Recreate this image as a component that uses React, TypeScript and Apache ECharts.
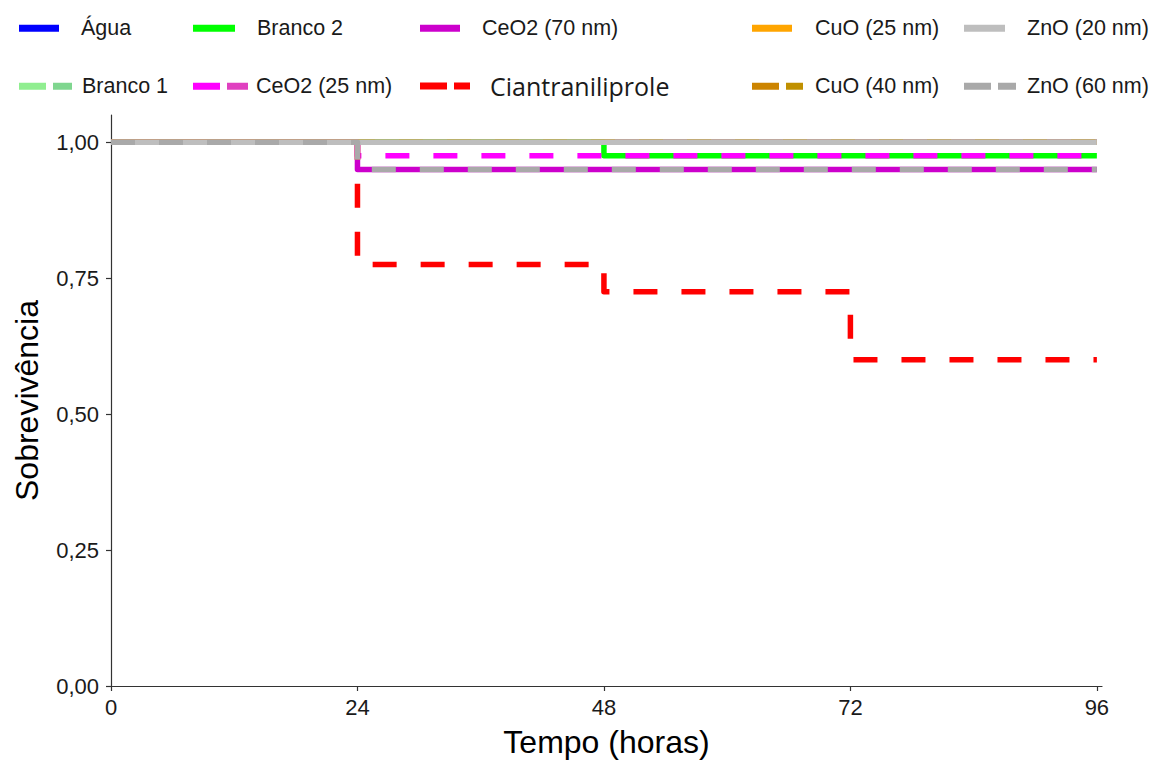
import React, { useEffect, useRef } from "react";
import * as echarts from "echarts";

const times = [0, 24, 48, 72, 96];
const xTicks = [0, 24, 48, 72, 96];
const yTicks = [0, 0.25, 0.5, 0.75, 1];

const agua = [1, 1, 1, 1, 1];
const branco1 = [1, 1, 1, 1, 1];
const branco2 = [1, 1, 0.975, 0.975, 0.975];
const ceo2_25 = [1, 0.975, 0.975, 0.975, 0.975];
const ceo2_70 = [1, 0.95, 0.95, 0.95, 0.95];
const ciantraniliprole = [1, 0.775, 0.725, 0.6, 0.6];
const cuo25 = [1, 1, 1, 1, 1];
const cuo40 = [1, 1, 1, 1, 1];
const zno20 = [1, 1, 1, 1, 1];
const zno60 = [1, 0.95, 0.95, 0.95, 0.95];

type S = {
  name: string;
  values: number[];
  color: string;
  color2?: string;
  dashed: boolean;
  lx: number;
  row: number;
  iw: number;
  pad: number;
  font?: string;
  fsize?: number;
};

const seriesDefs: S[] = [
  { name: "Água", values: agua, color: "#0000FF", dashed: false, lx: 19, row: 0, iw: 40, pad: 17 },
  { name: "Branco 1", values: branco1, color: "#90EE90", color2: "#7FD68F", dashed: true, lx: 19, row: 1, iw: 53, pad: 5 },
  { name: "Branco 2", values: branco2, color: "#00FF00", dashed: false, lx: 193, row: 0, iw: 42, pad: 17 },
  { name: "CeO2 (25 nm)", values: ceo2_25, color: "#FF00FF", color2: "#E040C0", dashed: true, lx: 193, row: 1, iw: 55, pad: 3 },
  { name: "CeO2 (70 nm)", values: ceo2_70, color: "#CC00CC", dashed: false, lx: 420, row: 0, iw: 40, pad: 17 },
  { name: "Ciantraniliprole", values: ciantraniliprole, color: "#FF0000", dashed: true, lx: 420, row: 1, iw: 50, pad: 15, font: "Open Sans", fsize: 25 },
  { name: "CuO (25 nm)", values: cuo25, color: "#FFA500", dashed: false, lx: 752, row: 0, iw: 40, pad: 18 },
  { name: "CuO (40 nm)", values: cuo40, color: "#CC8400", color2: "#C09000", dashed: true, lx: 752, row: 1, iw: 51, pad: 7 },
  { name: "ZnO (20 nm)", values: zno20, color: "#BEBEBE", dashed: false, lx: 964, row: 0, iw: 41, pad: 17 },
  { name: "ZnO (60 nm)", values: zno60, color: "#A9A9A9", dashed: true, lx: 964, row: 1, iw: 52, pad: 6 },
];

const rowY = [28, 86];
const FONT = "Liberation Sans, Arial, sans-serif";
const ICON_H = 7;

function iconPath(w: number, dashed: boolean): string {
  if (!dashed) return `path://M0,0h${w}v${ICON_H}h-${w}z`;
  const rest = w - 34;
  return `path://M0,0h27v${ICON_H}h-27zM34,0h${rest}v${ICON_H}h-${rest}z`;
}

function iconColor(s: S): any {
  if (!s.color2) return s.color;
  const split = 30 / s.iw;
  return new echarts.graphic.LinearGradient(0, 0, 1, 0, [
    { offset: 0, color: s.color },
    { offset: split, color: s.color },
    { offset: split, color: s.color2 },
    { offset: 1, color: s.color2 },
  ]);
}

export default function App() {
  const ref = useRef<HTMLDivElement>(null);
  useEffect(() => {
    if (!ref.current) return;
    const chart = echarts.init(ref.current, undefined, { renderer: "svg" });
    const option: any = {
      animation: false,
      backgroundColor: "#FFFFFF",
      textStyle: { fontFamily: FONT },
      grid: { left: 111, right: 53, top: 115, bottom: 72, containLabel: false },
      legend: seriesDefs.map((s) => {
        const fs = s.fsize ? s.fsize : 21.5;
        return {
          data: [{ name: s.name, icon: iconPath(s.iw, s.dashed) }],
          orient: "horizontal",
          left: s.lx,
          top: rowY[s.row] - fs / 2,
          padding: 0,
          itemWidth: s.iw,
          itemHeight: ICON_H,
          symbolKeepAspect: false,
          selectedMode: false,
          itemStyle: { color: iconColor(s), borderWidth: 0 },
          textStyle: {
            fontFamily: s.font ? s.font : FONT,
            fontSize: fs,
            color: "#1A1A1A",
            padding: [0, 0, 0, s.pad],
          },
        };
      }),
      xAxis: {
        type: "value",
        min: 0,
        max: 96.5,
        name: "Tempo (horas)",
        nameLocation: "middle",
        nameGap: 40,
        nameTextStyle: { fontFamily: FONT, fontSize: 32, color: "#000000" },
        splitLine: { show: false },
        axisLine: { show: true, onZero: false, lineStyle: { color: "#333333", width: 1.2 } },
        axisTick: { show: true, length: 5, customValues: xTicks, lineStyle: { color: "#333333", width: 1.2 } },
        axisLabel: {
          customValues: xTicks,
          margin: 10,
          fontFamily: FONT,
          fontSize: 22,
          color: "#1A1A1A",
          formatter: (v: number) => String(v),
        },
      },
      yAxis: {
        type: "value",
        min: 0,
        max: 1.05,
        name: "Sobrevivência",
        nameLocation: "middle",
        nameGap: 68,
        nameTextStyle: { fontFamily: FONT, fontSize: 32, color: "#000000" },
        splitLine: { show: false },
        axisLine: { show: true, onZero: false, lineStyle: { color: "#333333", width: 1.2 } },
        axisTick: { show: true, length: 5, customValues: yTicks, lineStyle: { color: "#333333", width: 1.2 } },
        axisLabel: {
          customValues: yTicks,
          margin: 12,
          fontFamily: FONT,
          fontSize: 22,
          color: "#1A1A1A",
          formatter: (v: number) => v.toFixed(2).replace(".", ","),
        },
      },
      series: seriesDefs.map((s) => ({
        name: s.name,
        type: "line",
        step: "end",
        symbol: "none",
        showSymbol: false,
        clip: false,
        color: s.color,
        lineStyle: {
          color: s.color,
          width: 5.5,
          type: s.dashed ? [24, 24] : "solid",
          cap: "butt",
          join: "round",
        },
        data: times.map((t, i) => [t, s.values[i]]),
      })),
    };
    chart.setOption(option);
    return () => chart.dispose();
  }, []);
  return (
    <div
      ref={ref}
      style={{ position: "fixed", left: 0, top: 0, width: 1155, height: 763, background: "#fff" }}
    />
  );
}
